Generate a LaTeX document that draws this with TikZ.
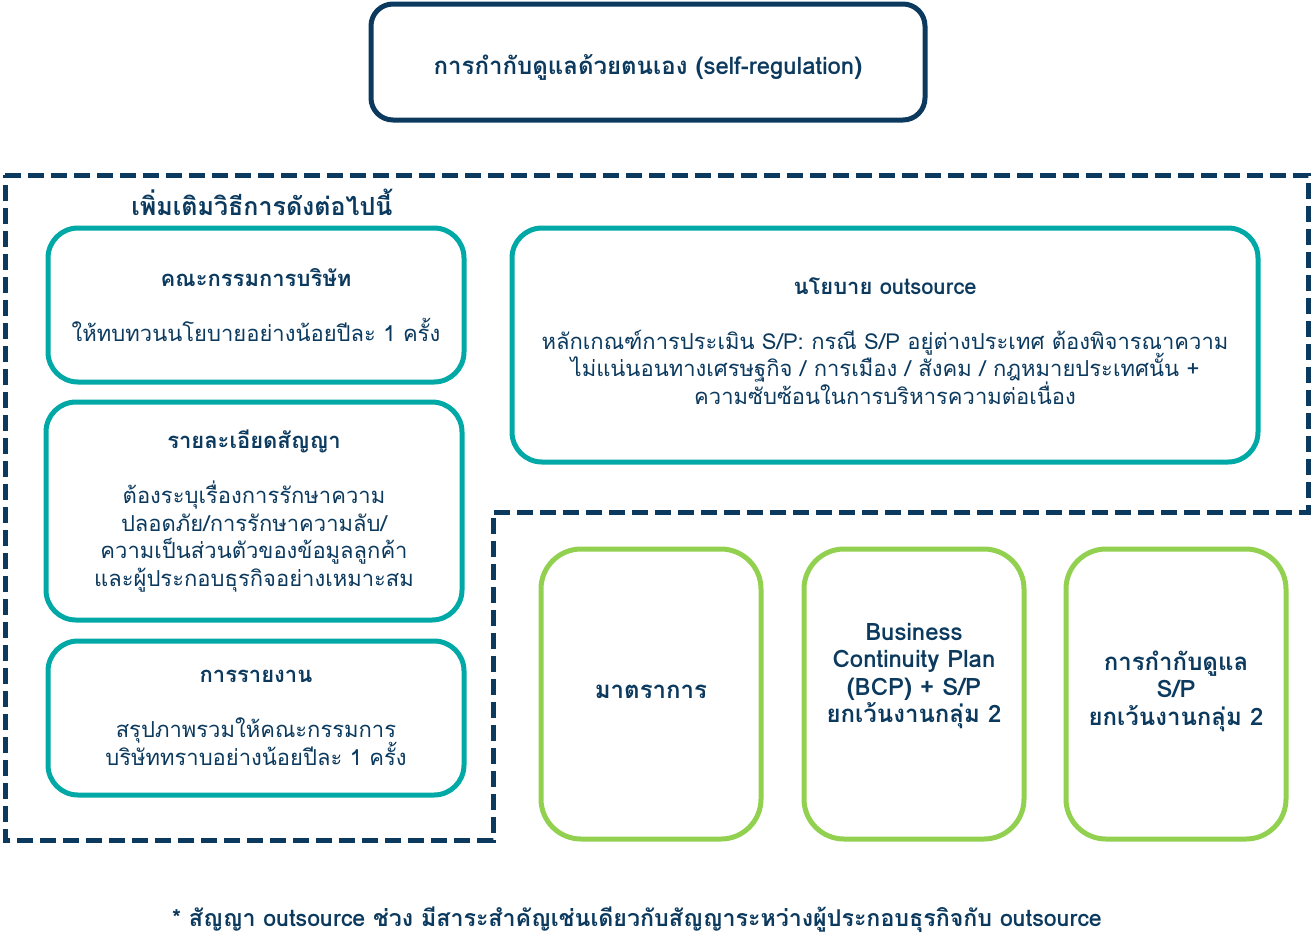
\documentclass[tikz,border=0pt]{standalone}
\usepackage{fontspec}
\setmainfont[Script=Thai]{Loma}
\definecolor{navy}{HTML}{0C3A5E}
\definecolor{tealc}{HTML}{00A9A6}
\definecolor{greenc}{HTML}{92D050}
\newcommand\tightlines{\lineskiplimit=-20pt\relax}
\tikzset{
  navybox/.style={draw=navy, line width=2.5pt, rounded corners=11pt, align=center},
  tealbox/.style={draw=tealc, line width=2.5pt, rounded corners=15pt, align=center},
  greenbox/.style={draw=greenc, line width=2.5pt, rounded corners=20pt, align=center,
    minimum width=110pt, minimum height=145pt},
  greentext/.style={align=center, font=\fontsize{12}{13.8}\selectfont\tightlines\bfseries},
  dashline/.style={draw=navy, line width=2.5pt, dash pattern=on 8pt off 3.5pt}
}
\begin{document}
\begin{tikzpicture}[x=0.5pt, y=-0.5pt, every node/.style={text=navy, font=\fontsize{11}{13.75}\selectfont\tightlines}]
  \useasboundingbox (0,0) rectangle (1312,950);

  % top
  \node[navybox, minimum width=277pt, minimum height=58pt] (selfreg) at (648,62) {};
  \node[font=\fontsize{12}{16}\selectfont\bfseries] (selfregtext) at (648,67)
    {การกำกับดูแลด้วยตนเอง (self-regulation)};

  % dashed frame
  \draw[dashline] (5,175) -- (1308,175) -- (1308,512) -- (493,512) -- (493,840) -- (5,840) -- cycle;
  \node[font=\fontsize{12.5}{16}\selectfont\bfseries] (extra) at (262,202) {เพิ่มเติมวิธีการดังต่อไปนี้};

  % left column
  \node[tealbox, minimum width=208pt, minimum height=77pt] (board) at (256,305)
    {\textbf{คณะกรรมการบริษัท}\\[13.75pt]ให้ทบทวนนโยบายอย่างน้อยปีละ 1 ครั้ง};
  \node[tealbox, minimum width=208pt, minimum height=109pt] (contract) at (254,511)
    {\textbf{รายละเอียดสัญญา}\\[13.75pt]ต้องระบุเรื่องการรักษาความ\\ปลอดภัย/การรักษาความลับ/\\ความเป็นส่วนตัวของข้อมูลลูกค้า\\และผู้ประกอบธุรกิจอย่างเหมาะสม};
  \node[tealbox, minimum width=208pt, minimum height=77pt] (report) at (256,718)
    {\textbf{การรายงาน}\\[13.75pt]สรุปภาพรวมให้คณะกรรมการ\\บริษัททราบอย่างน้อยปีละ 1 ครั้ง};

  % policy
  \node[tealbox, minimum width=373pt, minimum height=117pt] (policy) at (885,345) {};
  \node[align=center] (policytext) at (885,341)
    {\textbf{นโยบาย outsource}\\[13.75pt]หลักเกณฑ์การประเมิน S/P: กรณี S/P อยู่ต่างประเทศ ต้องพิจารณาความ\\ไม่แน่นอนทางเศรษฐกิจ / การเมือง / สังคม / กฎหมายประเทศนั้น +\\ความซับซ้อนในการบริหารความต่อเนื่อง};

  % green
  \node[greenbox] (measure) at (651,694) {};
  \node[greentext] (measuretext) at (651,692) {มาตราการ};
  \node[greenbox] (bcp) at (914,694) {};
  \node[greentext] (bcptext) at (914,676) {Business\\Continuity Plan\\(BCP) + S/P\\ยกเว้นงานกลุ่ม 2};
  \node[greenbox] (supervise) at (1176,694) {};
  \node[greentext] (supervisetext) at (1176,691) {การกำกับดูแล\\S/P\\ยกเว้นงานกลุ่ม 2};

  % note
  \node[font=\fontsize{11.6}{14}\selectfont\bfseries] (note) at (637,920)
    {* สัญญา outsource ช่วง มีสาระสำคัญเช่นเดียวกับสัญญาระหว่างผู้ประกอบธุรกิจกับ outsource};
\end{tikzpicture}
\end{document}
